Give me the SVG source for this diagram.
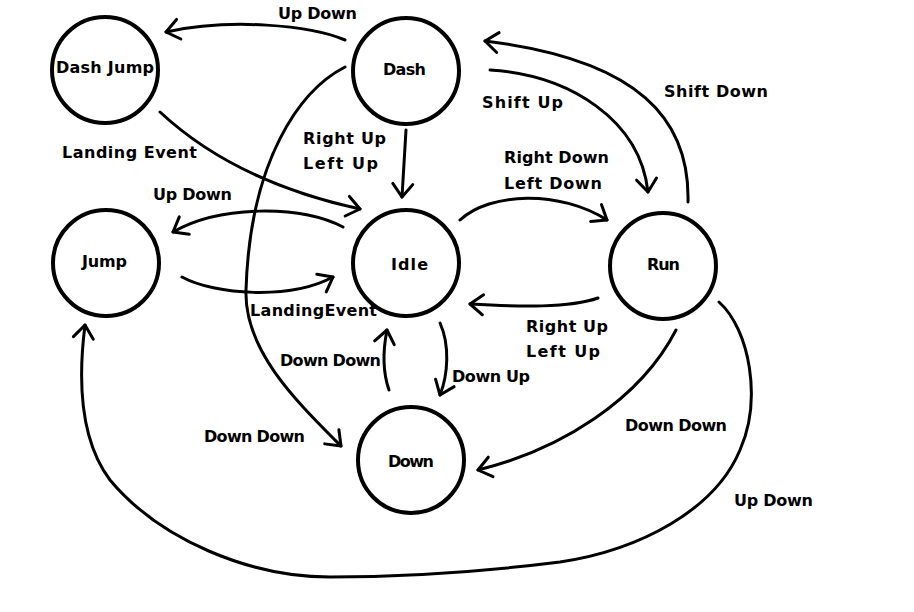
<svg xmlns="http://www.w3.org/2000/svg" width="914" height="612" viewBox="0 0 914 612">
<defs>
<style>
.node circle{fill:#fff;stroke:#000;stroke-width:4}
text{font-family:"DejaVu Sans","Liberation Sans",sans-serif;font-weight:bold;font-size:16px;fill:#000}
.edge{fill:none;stroke:#000;stroke-width:3;stroke-linecap:round;stroke-linejoin:round;marker-end:url(#arr)}
</style>
<marker id="arr" markerUnits="userSpaceOnUse" markerWidth="30" markerHeight="30" viewBox="-20 -15 30 30" refX="0" refY="0" orient="auto" overflow="visible">
<path d="M-13,-10 L0,0 L-13,10" fill="none" stroke="#000" stroke-width="3" stroke-linecap="round" stroke-linejoin="round"/>
</marker>
</defs>
<rect width="914" height="612" fill="#fff"/>
<g id="connectors">
<path class="edge" d="M345,40 C310,25 230,18 166,32"/>
<path class="edge" d="M160,112 C190,140 250,185 360,209"/>
<path class="edge" d="M406,130 L402,197"/>
<path class="edge" d="M343,227 C300,205 220,205 173,232"/>
<path class="edge" d="M182,277 C215,295 290,300 333,277"/>
<path class="edge" d="M345,67 C300,90 250,160 246,290 C244,350 295,400 341,446"/>
<path class="edge" d="M460,220 C490,192 560,190 607,220"/>
<path class="edge" d="M598,298 C570,308 520,307 470,304"/>
<path class="edge" d="M389,390 C382,370 383,350 387,330"/>
<path class="edge" d="M440,323 C450,345 448,375 440,395"/>
<path class="edge" d="M490,70 C570,75 640,120 648,192"/>
<path class="edge" d="M688,202 C690,120 640,60 485,41"/>
<path class="edge" d="M676,330 C640,400 560,450 478,470"/>
<path class="edge" d="M719,302 C750,330 762,400 740,450 C715,510 640,550 560,562 C480,572 400,577 330,577 C250,577 160,540 110,480 C80,440 78,380 85,325"/>
</g>
<g id="edge-labels">
<text x="278" y="19" textLength="79">Up Down</text>
<text x="62" y="158" textLength="135">Landing Event</text>
<text x="303" y="144" textLength="83">Right Up</text>
<text x="303" y="169" textLength="75">Left Up</text>
<text x="153" y="200" textLength="79">Up Down</text>
<text x="250" y="316" textLength="127">LandingEvent</text>
<text x="280" y="366" textLength="101">Down Down</text>
<text x="204" y="442" textLength="101">Down Down</text>
<text x="452" y="382" textLength="78">Down Up</text>
<text x="526" y="332" textLength="82">Right Up</text>
<text x="526" y="357" textLength="74">Left Up</text>
<text x="482" y="108" textLength="81">Shift Up</text>
<text x="664" y="97" textLength="104">Shift Down</text>
<text x="504" y="163" textLength="105">Right Down</text>
<text x="504" y="189" textLength="98">Left Down</text>
<text x="625" y="431" textLength="102">Down Down</text>
<text x="734" y="506" textLength="79">Up Down</text>
</g>
<g id="node-dashjump" class="node"><circle cx="105" cy="70" r="53"/><text x="56" y="73" textLength="98">Dash Jump</text></g>
<g id="node-dash" class="node"><circle cx="406" cy="71" r="53"/><text x="383" y="75" textLength="43">Dash</text></g>
<g id="node-jump" class="node"><circle cx="106" cy="263" r="53"/><text x="82" y="267" textLength="45">Jump</text></g>
<g id="node-idle" class="node"><circle cx="406" cy="263" r="53"/><text x="391" y="270" textLength="37">Idle</text></g>
<g id="node-run" class="node"><circle cx="663" cy="266" r="53"/><text x="647" y="270" textLength="33">Run</text></g>
<g id="node-down" class="node"><circle cx="411" cy="460" r="53"/><text x="388" y="467" textLength="46">Down</text></g>
</svg>
